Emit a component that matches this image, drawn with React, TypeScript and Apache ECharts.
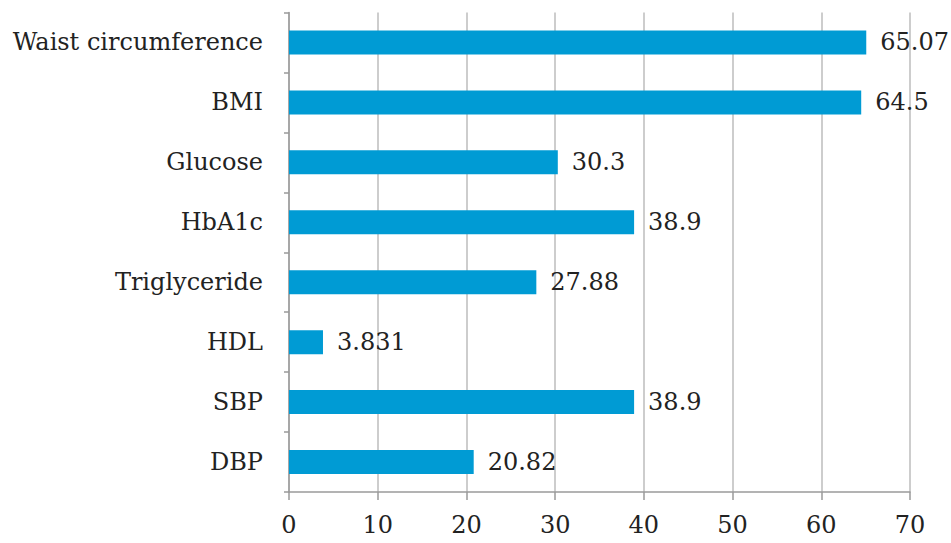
import React, { useEffect, useRef } from "react";
import * as echarts from "echarts";

const categories = [
  "Waist circumference",
  "BMI",
  "Glucose",
  "HbA1c",
  "Triglyceride",
  "HDL",
  "SBP",
  "DBP",
];
const values = [65.07, 64.5, 30.3, 38.9, 27.88, 3.831, 38.9, 20.82];
const valueLabels = ["65.07", "64.5", "30.3", "38.9", "27.88", "3.831", "38.9", "20.82"];

const FONT = "DejaVu Serif";

export default function App() {
  const ref = useRef<HTMLDivElement>(null);
  useEffect(() => {
    if (!ref.current) return;
    const chart = echarts.init(ref.current, null, { renderer: "svg" });
    chart.setOption({
      animation: false,
      grid: { left: 289, right: 41, top: 12.5, bottom: 51, containLabel: false },
      xAxis: {
        type: "value",
        min: 0,
        max: 70,
        interval: 10,
        axisLine: { show: true, lineStyle: { color: "#9a9a9a", width: 1.5 } },
        axisTick: { show: true, length: 8, lineStyle: { color: "#9a9a9a", width: 1.5 } },
        splitLine: { show: true, lineStyle: { color: "#bdbdbd", width: 1.5 } },
        axisLabel: { color: "#222", fontFamily: FONT, fontSize: 24, margin: 21 },
      },
      yAxis: {
        type: "category",
        data: categories,
        inverse: true,
        axisLine: { show: true, lineStyle: { color: "#9a9a9a", width: 1.5 } },
        axisTick: { show: true, length: 5, lineStyle: { color: "#9a9a9a", width: 1.5 } },
        axisLabel: { color: "#222", fontFamily: FONT, fontSize: 24, margin: 26 },
      },
      series: [
        {
          type: "bar",
          data: values,
          barWidth: 24,
          itemStyle: { color: "#009bd4" },
          label: {
            show: true,
            position: "right",
            distance: 14,
            color: "#222",
            fontFamily: FONT,
            fontSize: 24,
            formatter: (p: any) => valueLabels[p.dataIndex],
          },
        },
      ],
    });
    return () => chart.dispose();
  }, []);
  return (
    <div
      ref={ref}
      style={{ position: "fixed", left: 0, top: 0, width: 951, height: 543, background: "#fff" }}
    />
  );
}
